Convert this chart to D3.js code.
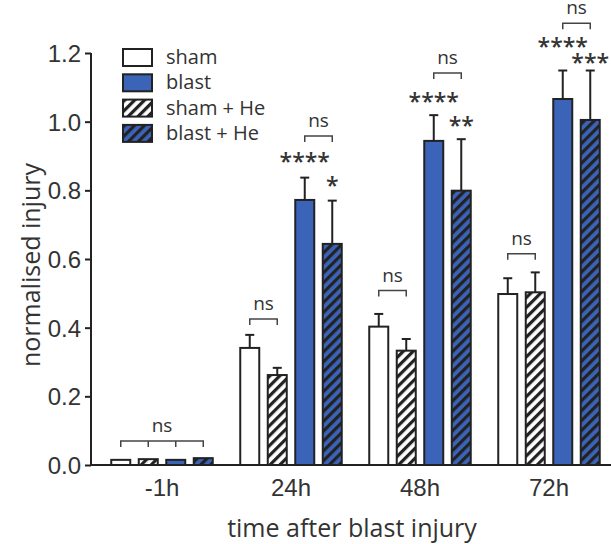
<!DOCTYPE html>
<html>
<head>
<meta charset="utf-8">
<script src="https://cdn.jsdelivr.net/npm/d3@7"></script>
<style>
  body { margin: 0; background: #fff; }
  svg { font-family: "Open Sans", sans-serif; }
</style>
</head>
<body>
<svg id="chart" width="611" height="544"></svg>
<script>
// data
var groups = ["-1h", "24h", "48h", "72h"];
var series = ["sham", "sham + He", "blast", "blast + He"];
var legendOrder = ["sham", "blast", "sham + He", "blast + He"];
var yTicks = [0, 0.2, 0.4, 0.6, 0.8, 1.0, 1.2];

var sham      = [0.015, 0.341, 0.403, 0.498];
var shamErr   = [0.003, 0.038, 0.037, 0.046];
var shamHe    = [0.017, 0.262, 0.333, 0.503];
var shamHeErr = [0.003, 0.021, 0.034, 0.058];
var blast     = [0.015, 0.772, 0.944, 1.066];
var blastErr  = [0.003, 0.065, 0.075, 0.083];
var blastHe   = [0.020, 0.644, 0.799, 1.005];
var blastHeErr= [0.004, 0.126, 0.150, 0.144];

// significance: bracket from series a to b at a level (data units)
var brackets = [
  { g: "-1h", a: 0, b: 3, level: 0.070, label: "ns" },
  { g: "24h", a: 0, b: 1, level: 0.425, label: "ns" },
  { g: "48h", a: 0, b: 1, level: 0.508, label: "ns" },
  { g: "72h", a: 0, b: 1, level: 0.615, label: "ns" },
  { g: "24h", a: 2, b: 3, level: 0.958, label: "ns" },
  { g: "48h", a: 2, b: 3, level: 1.142, label: "ns" },
  { g: "72h", a: 2, b: 3, level: 1.287, label: "ns" }
];
var stars = [
  { g: "24h", s: 2, level: 0.897, label: "****" },
  { g: "24h", s: 3, level: 0.827, label: "*" },
  { g: "48h", s: 2, level: 1.072, label: "****" },
  { g: "48h", s: 3, level: 1.002, label: "**" },
  { g: "72h", s: 2, level: 1.232, label: "****" },
  { g: "72h", s: 3, level: 1.186, label: "***" }
];

var means = [sham, shamHe, blast, blastHe];
var errs = [shamErr, shamHeErr, blastErr, blastHeErr];
var blue = "#3b63b7";
var fills = { "sham": "#fff", "sham + He": "url(#hatchW)", "blast": blue, "blast + He": "url(#hatchB)" };

var rows = [];
groups.forEach(function(g, gi) {
  series.forEach(function(s, si) {
    rows.push({ g: g, s: s, si: si, v: means[si][gi], e: errs[si][gi] });
  });
});

var svg = d3.select("#chart");
var ink = "#222";

var defs = svg.append("defs");
[["hatchW", "#fff"], ["hatchB", blue]].forEach(function(p) {
  var pat = defs.append("pattern")
      .attr("id", p[0])
      .attr("patternUnits", "userSpaceOnUse")
      .attr("width", 7).attr("height", 7)
      .attr("patternTransform", "rotate(45)");
  pat.append("rect").attr("width", 7).attr("height", 7).attr("fill", p[1]);
  pat.append("rect").attr("width", 3.2).attr("height", 7).attr("fill", ink);
});

var mLeft = 91, mBottom = 465, mTop = 53;

var y = d3.scaleLinear().domain([0, 1.2]).range([mBottom, mTop]);
var x0 = d3.scaleBand().domain(groups).range([97.5, 613.5]);
var x1 = d3.scaleBand().domain(series).range([9.5, 119.5]);
var barW = 19;

function cx(g, si) { return x0(g) + x1(series[si]) + x1.bandwidth() / 2; }

// bars
var bars = svg.append("g");
bars.selectAll("rect")
  .data(rows)
  .enter()
  .append("rect")
    .attr("x", function(d) { return cx(d.g, d.si) - barW / 2; })
    .attr("y", function(d) { return y(d.v); })
    .attr("width", barW)
    .attr("height", function(d) { return y(0) - y(d.v); })
    .attr("fill", function(d) { return fills[d.s]; })
    .attr("stroke", ink)
    .attr("stroke-width", 2);

// error bars (upper only)
var withErr = rows.filter(function(d) { return d.e > 0.005; });
var eb = svg.append("g").attr("stroke", ink).attr("stroke-width", 2);
eb.selectAll("line.v")
  .data(withErr)
  .enter()
  .append("line")
    .attr("class", "v")
    .attr("x1", function(d) { return cx(d.g, d.si); })
    .attr("x2", function(d) { return cx(d.g, d.si); })
    .attr("y1", function(d) { return y(d.v); })
    .attr("y2", function(d) { return y(d.v + d.e); });
eb.selectAll("line.c")
  .data(withErr)
  .enter()
  .append("line")
    .attr("class", "c")
    .attr("x1", function(d) { return cx(d.g, d.si) - 4.5; })
    .attr("x2", function(d) { return cx(d.g, d.si) + 4.5; })
    .attr("y1", function(d) { return y(d.v + d.e); })
    .attr("y2", function(d) { return y(d.v + d.e); });

// axes
var yAxis = svg.append("g")
    .attr("transform", "translate(" + mLeft + ",0)")
    .call(d3.axisLeft(y).tickValues(yTicks).tickFormat(d3.format(".1f")).tickSize(6).tickPadding(4));
yAxis.select(".domain").attr("stroke", ink).attr("stroke-width", 2).attr("d", "M0," + y(1.2) + "V" + y(0));
yAxis.selectAll(".tick line").attr("stroke", ink).attr("stroke-width", 2);
yAxis.selectAll(".tick text").attr("fill", "#333").style("font-size", "24px").attr("dy", "0.36em");

var xAxis = svg.append("g")
    .attr("transform", "translate(0," + mBottom + ")")
    .call(d3.axisBottom(x0).tickSize(0).tickPadding(14));
xAxis.select(".domain").attr("stroke", ink).attr("stroke-width", 2).attr("d", "M" + mLeft + ",0H611");
xAxis.selectAll(".tick text").attr("fill", "#333").style("font-size", "24px");

svg.append("text")
    .attr("x", 352).attr("y", 537)
    .attr("text-anchor", "middle")
    .attr("fill", "#333")
    .style("font-size", "25px")
    .text("time after blast injury");

svg.append("text")
    .attr("transform", "translate(40,265) rotate(-90)")
    .attr("text-anchor", "middle")
    .attr("fill", "#333")
    .style("font-size", "25px")
    .text("normalised injury");

// brackets
var br = svg.append("g");
brackets.forEach(function(b) {
  var xa = cx(b.g, b.a), xb = cx(b.g, b.b), yy = y(b.level);
  var path = "M" + xa + "," + (yy + 6) + "V" + yy + "H" + xb + "V" + (yy + 6);
  for (var i = b.a + 1; i < b.b; i++) {
    path += "M" + cx(b.g, i) + "," + yy + "V" + (yy + 6);
  }
  br.append("path")
    .attr("d", path)
    .attr("fill", "none")
    .attr("stroke", "#444")
    .attr("stroke-width", 1.5);
  br.append("text")
    .attr("x", (xa + xb) / 2)
    .attr("y", yy - 9)
    .attr("text-anchor", "middle")
    .attr("fill", "#333")
    .style("font-size", "19px")
    .text(b.label);
});

// stars
svg.append("g").selectAll("text")
  .data(stars)
  .enter()
  .append("text")
    .attr("x", function(d) { return cx(d.g, d.s); })
    .attr("y", function(d) { return y(d.level) + 0.57 * 23; })
    .attr("text-anchor", "middle")
    .attr("fill", "#333")
    .style("font-size", "23px")
    .style("font-weight", "600")
    .text(function(d) { return d.label; });

// legend
var legend = svg.append("g").selectAll("g")
  .data(legendOrder)
  .enter()
  .append("g")
    .attr("transform", function(d, i) { return "translate(123," + (49 + i * 25.3) + ")"; });
legend.append("rect")
    .attr("width", 29).attr("height", 17)
    .attr("fill", function(d) { return fills[d]; })
    .attr("stroke", ink)
    .attr("stroke-width", 2);
legend.append("text")
    .attr("x", 43).attr("y", 15)
    .attr("fill", "#333")
    .style("font-size", "20px")
    .text(function(d) { return d; });
</script>
</body>
</html>
